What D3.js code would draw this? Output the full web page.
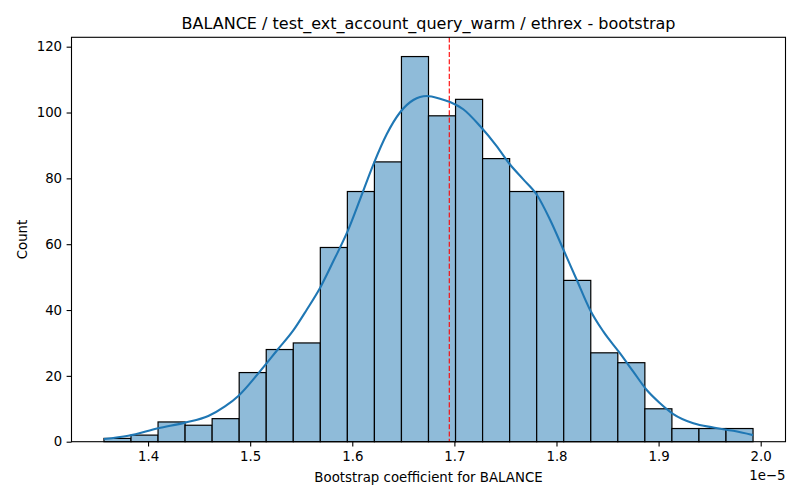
<!DOCTYPE html>
<html><head><meta charset="utf-8">
<script src="https://cdn.jsdelivr.net/npm/d3@7"></script>
<style>
body{margin:0;background:#fff;}
text{font-family:"DejaVu Sans",sans-serif;fill:#000;}
</style></head>
<body><svg id="chart" width="800" height="500"></svg>
<script>
// values in units of 1e-5
const dataMin = 1.3568;
const dataMax = 1.9925;
const counts = [1,2,6,5,7,21,28,30,59,76,85,117,99,104,86,76,76,49,27,24,10,4,4,4];
const xTicks = [1.4,1.5,1.6,1.7,1.8,1.9,2.0];
const yTicks = [0,20,40,60,80,100,120];
const refLine = 1.695;
// KDE curve: x (1e-5), count
const kdeX = [1.3568,1.3806,1.4100,1.4362,1.4590,1.4753,1.4884,1.5086,1.5270,1.5422,1.5554,1.5684,1.5814,1.5961,1.6076,1.6206,1.6337,1.6467,1.6598,1.6729,1.6859,1.6957,1.7087,1.7251,1.7414,1.7545,1.7675,1.7806,1.7936,1.8067,1.8198,1.8328,1.8458,1.8621,1.8752,1.8884,1.9014,1.9144,1.9340,1.9536,1.9732,1.9925];
const kdeY = [0.8,1.8,4.1,5.8,7.8,10.7,13.9,21.0,28.0,33.8,40.1,46.7,54.8,64.4,73.6,84.2,93.4,100.0,103.8,105.0,104.2,103.2,101.0,95.9,89.8,84.2,79.7,75.1,67.5,58.4,49.2,40.1,33.5,26.9,21.3,15.7,11.7,8.4,5.6,4.3,3.3,2.0];

const svg = d3.select("#chart");
const L=71.5, R=785.5, T=37.3, B=441.7;
const nb = counts.length, bw = (dataMax-dataMin)/nb;
const span = dataMax-dataMin;
const x = d3.scaleLinear().domain([dataMin-0.05*span, dataMax+0.05*span]).range([L,R]);
const y = d3.scaleLinear().domain([0, d3.max(counts)*1.05]).range([B,T]);

const bins = counts.map((c,i)=>({x0:dataMin+i*bw, x1:dataMin+(i+1)*bw, c}));
svg.append("g").selectAll("rect").data(bins).join("rect")
  .attr("x",d=>x(d.x0)).attr("width",d=>x(d.x1)-x(d.x0))
  .attr("y",d=>y(d.c)).attr("height",d=>y(0)-y(d.c))
  .attr("fill","#8fbbd9").attr("stroke","#000").attr("stroke-width",1.2);

const pts = kdeX.map((v,i)=>[v,kdeY[i]]);
svg.append("path").datum(pts)
  .attr("d", d3.line().x(d=>x(d[0])).y(d=>y(d[1])).curve(d3.curveMonotoneX))
  .attr("fill","none").attr("stroke","#1f77b4").attr("stroke-width",2.1);

svg.append("line").attr("x1",x(refLine)).attr("x2",x(refLine)).attr("y1",T).attr("y2",B)
  .attr("stroke","#ff0000").attr("stroke-width",1.1).attr("stroke-dasharray","5.1,2.2");

// axes
const xa = svg.append("g").attr("transform",`translate(0,${B})`)
  .call(d3.axisBottom(x).tickValues(xTicks).tickFormat(d3.format(".1f")).tickSize(4.9).tickPadding(4.5));
const ya = svg.append("g").attr("transform",`translate(${L},0)`)
  .call(d3.axisLeft(y).tickValues(yTicks).tickSize(4.9).tickPadding(4.5));
[xa,ya].forEach(a=>{
  a.select(".domain").remove();
  a.selectAll("line").attr("stroke","#000").attr("stroke-width",1.1);
  a.selectAll("text").style("font-family","DejaVu Sans").style("font-size","13.33px").attr("fill","#000");
});
svg.append("rect").attr("x",L).attr("y",T).attr("width",R-L).attr("height",B-T)
  .attr("fill","none").attr("stroke","#000").attr("stroke-width",1.1);

svg.append("text").attr("x",R).attr("y",480).attr("text-anchor","end")
  .style("font-size","13.33px").text("1e\u22125");
svg.append("text").attr("x",(L+R)/2).attr("y",482).attr("text-anchor","middle")
  .style("font-size","13.33px").text("Bootstrap coefficient for BALANCE");
svg.append("text").attr("transform",`translate(27,${(T+B)/2}) rotate(-90)`).attr("text-anchor","middle")
  .style("font-size","13.33px").text("Count");
svg.append("text").attr("x",(L+R)/2).attr("y",29).attr("text-anchor","middle")
  .style("font-size","16px").text("BALANCE / test_ext_account_query_warm / ethrex - bootstrap");
</script></body></html>
